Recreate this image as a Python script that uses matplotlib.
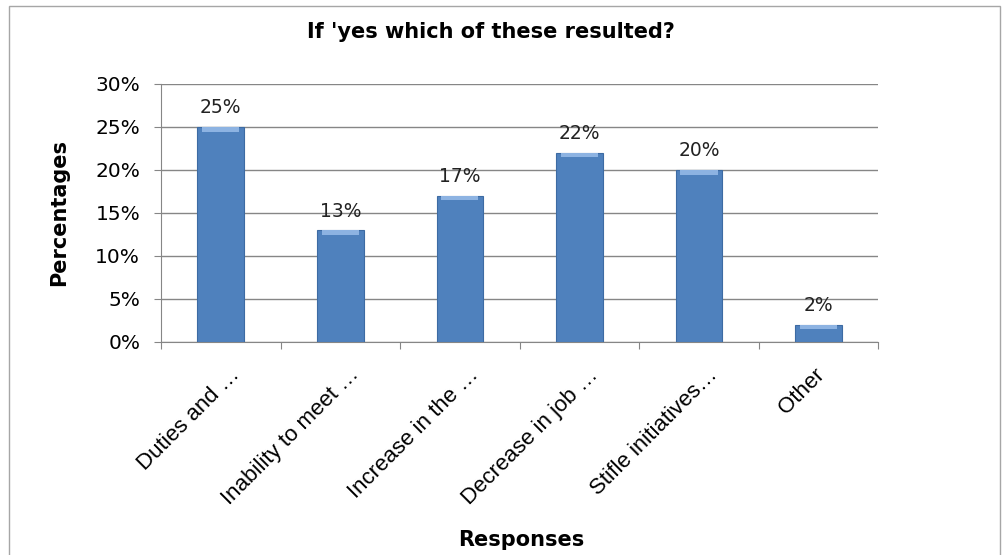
import matplotlib.pyplot as plt
from matplotlib.patches import Rectangle

# survey answers, percent of respondents
responses = ["Duties and …", "Inability to meet …", "Increase in the …",
             "Decrease in job …", "Stifle initiatives…", "Other"]
percent = [25, 13, 17, 22, 20, 2]
y_ticks = [0, 5, 10, 15, 20, 25, 30]

fig = plt.figure(figsize=(10.06, 5.55), dpi=100)
ax = fig.add_axes([0.160, 0.384, 0.713, 0.465])

x = list(range(len(responses)))
bar_w = 0.39
ax.bar(x, percent, width=bar_w, color="#4f81bd", edgecolor="#3d6ba3",
       linewidth=0.8, zorder=3)
# light bevel strip along the top of each bar
cap = 0.55
ax.bar(x, [cap] * len(x), bottom=[p - cap for p in percent], width=bar_w * 0.8,
       color="#8db3e2", linewidth=0, zorder=4)

for xi, p in zip(x, percent):
    ax.text(xi, p + 1.1, f"{p}%", ha="center", va="bottom",
            fontsize=13.5, color="#222222", zorder=5)

ax.set_xlim(-0.5, len(x) - 0.5)
ax.set_ylim(0, 30)
ax.set_yticks(y_ticks)
ax.set_yticklabels([f"{t}%" for t in y_ticks], fontsize=14.5)
ax.yaxis.grid(True, color="#868686", linewidth=1.0, zorder=0)
ax.tick_params(axis="y", length=5, color="#868686", pad=10)

ax.set_xticks([i - 0.5 for i in range(len(x) + 1)])
ax.set_xticklabels([])
ax.tick_params(axis="x", length=5, color="#868686")
for xi, name in zip(x, responses):
    # shortened names carry a trailing ellipsis, so they sit a bit further right
    shift = 0.07 if name.endswith("…") else -0.04
    ax.text(xi + shift, -2.6, name, rotation=45, ha="right", va="top",
            rotation_mode="anchor", fontsize=16, family="Liberation Sans",
            transform=ax.transData)

for side in ["top", "right"]:
    ax.spines[side].set_visible(False)
for side in ["left", "bottom"]:
    ax.spines[side].set_color("#868686")

ax.set_ylabel("Percentages", fontsize=15, fontweight="bold")
ax.yaxis.set_label_coords(-0.128, 0.5)
fig.text(0.518, 0.027, "Responses", ha="center", va="center",
         fontsize=15, fontweight="bold")
fig.text(0.488, 0.943, "If 'yes which of these resulted?", ha="center",
         va="center", fontsize=15, fontweight="bold")

fig.patches.append(Rectangle((0.009, -0.02), 0.985, 1.009, transform=fig.transFigure,
                             fill=False, edgecolor="#a6a6a6", linewidth=1.0))

fig.savefig("out.png", dpi=100)
